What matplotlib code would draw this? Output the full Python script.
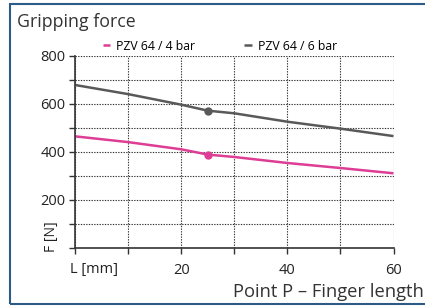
import numpy as np
import matplotlib.pyplot as plt
from matplotlib.patches import Rectangle

plt.rcParams['font.family'] = ['Open Sans', 'DejaVu Sans']

# finger length L [mm] and gripping force F [N]
length = [0, 10, 20, 25, 30, 40, 50, 60]
f_4bar = [464, 440, 410, 388, 378, 353, 332, 310]
f_6bar = [678, 640, 596, 571, 560, 525, 496, 465]
mark_x = 25
mark_4bar = 388
mark_6bar = 571

pink = "#dd3d94"
grey = "#595959"
frame = "#2c5b88"

fig = plt.figure(figsize=(4.25, 3.07), dpi=100)
ax = fig.add_axes([75/425, 1-247.7/307, 318.5/425, 192/307])

ax.plot(length, f_4bar, color=pink, lw=1.8, label="PZV 64 / 4 bar", solid_capstyle="butt")
ax.plot(length, f_6bar, color=grey, lw=1.8, label="PZV 64 / 6 bar", solid_capstyle="butt")
ax.plot(mark_x, mark_4bar, "o", color=pink, ms=5)
ax.plot(mark_x, mark_6bar, "o", color=grey, ms=5)

ax.set_xlim(0, 60)
ax.set_ylim(0, 800)
ax.set_xticks(np.arange(0, 61, 10))
ax.set_xticklabels(["", "", "20", "", "40", "", "60"])
ax.set_yticks(np.arange(0, 801, 100))
ax.set_yticklabels(["", "", "200", "", "400", "", "600", "", "800"])
ax.grid(True, ls=(0, (1.2, 1.2)), color="#333333", lw=0.8)
ax.tick_params(length=4, width=1, color="#333333", labelsize=10.5,
               labelcolor="#222222", pad=3)
ax.tick_params(axis="x", pad=7)
for s in ["top", "right"]:
    ax.spines[s].set_visible(False)
for s in ["left", "bottom"]:
    ax.spines[s].set_color("#333333")
    ax.spines[s].set_linewidth(1.2)

leg = ax.legend(loc="lower center", bbox_to_anchor=(0.455, 0.99), ncol=2,
                frameon=False, fontsize=8.8, handlelength=0.6, handletextpad=0.5,
                columnspacing=4.0, borderaxespad=0)

fig.text(17/425, 1-22/307, "Gripping force", fontsize=12.8, color="#333333",
         va="center", ha="left")
fig.text(52/425, 1-237/307, "F [N]", fontsize=10, color="#222222",
         rotation=90, va="center", ha="center")
fig.text(70/425, 1-270/307, "L [mm]", fontsize=10.5, color="#222222",
         va="center", ha="left")
fig.text(424/425, 1-292/307, "Point P \u2013 Finger length", fontsize=13.2,
         color="#333333", va="center", ha="right")

fig.patches.append(Rectangle((9.5/425, 1-304/307), 1.0, 300/307,
                             transform=fig.transFigure, fill=False,
                             edgecolor=frame, lw=1.5))

fig.savefig("out.png", dpi=100)
